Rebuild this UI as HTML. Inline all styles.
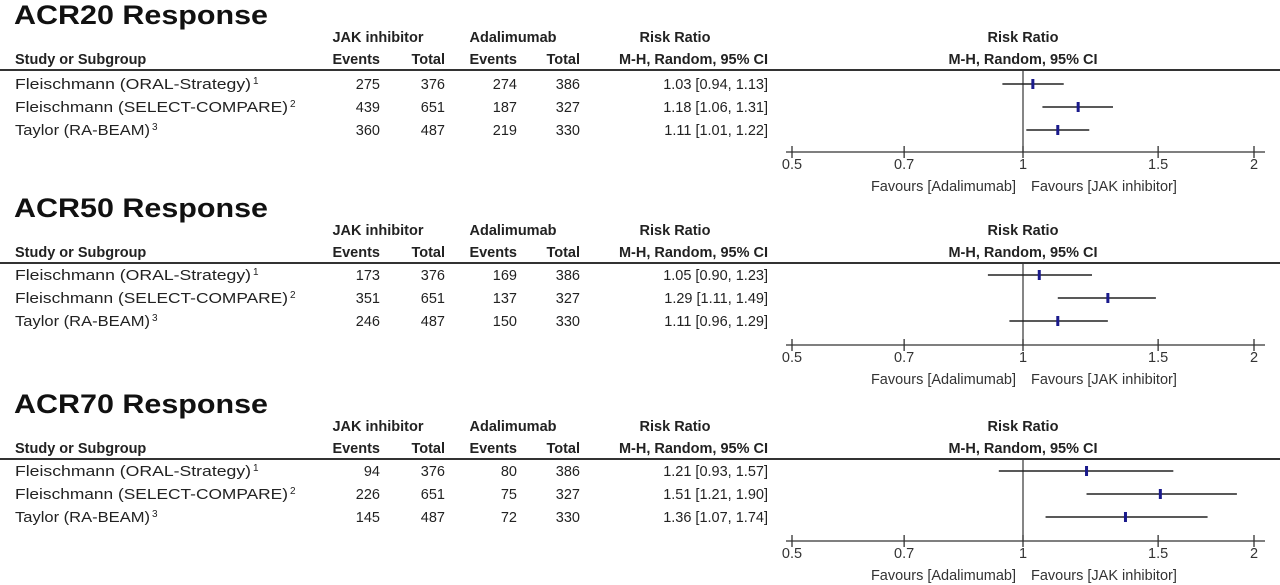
<!DOCTYPE html>
<html><head><meta charset="utf-8"><style>
html,body{margin:0;padding:0;background:#fff;}
svg{display:block;font-family:"Liberation Sans",Arial,sans-serif;}
</style></head><body>
<svg id="chart" width="1280" height="585" viewBox="0 0 1280 585" xmlns="http://www.w3.org/2000/svg"></svg>
<script>
const sectionTitles = ["ACR20 Response","ACR50 Response","ACR70 Response"];
const studyNames = ["Fleischmann (ORAL-Strategy)","Fleischmann (SELECT-COMPARE)","Taylor (RA-BEAM)"];
const studyRefs = ["1","2","3"];
const jakEvents = [[275,439,360],[173,351,246],[94,226,145]];
const jakTotal = [[376,651,487],[376,651,487],[376,651,487]];
const adaEvents = [[274,187,219],[169,137,150],[80,75,72]];
const adaTotal = [[386,327,330],[386,327,330],[386,327,330]];
const rrEst = [[1.03,1.18,1.11],[1.05,1.29,1.11],[1.21,1.51,1.36]];
const rrLow = [[0.94,1.06,1.01],[0.90,1.11,0.96],[0.93,1.21,1.07]];
const rrHigh = [[1.13,1.31,1.22],[1.23,1.49,1.29],[1.57,1.90,1.74]];
const tickValues = [0.5,0.7,1,1.5,2];
const tickLabels = ["0.5","0.7","1","1.5","2"];

const svg = document.getElementById('chart');
const NS = "http://www.w3.org/2000/svg";
function xScale(v){ return 1023 + 231*Math.log2(v); }
function el(tag, attrs, parent){
  const e = document.createElementNS(NS, tag);
  for (const k in attrs) e.setAttribute(k, attrs[k]);
  (parent||svg).appendChild(e);
  return e;
}
function txt(s, x, y, opts, parent){
  const t = el('text', Object.assign({x:x, y:y, 'font-size':14.5, fill:'#222'}, opts||{}), parent);
  t.textContent = s;
  return t;
}
const sectionOffsets = [0,193,389];
const rowShift = [2,0,0];
const nameLens = [236,273,135];

sectionTitles.forEach((title, s) => {
  const o = sectionOffsets[s];
  const g = el('g', {});
  
  
  const t = txt(title, 14, o+24, {'font-size':27,'font-weight':'bold',fill:'#111',textLength:254,lengthAdjust:'spacingAndGlyphs'}, g);
  
  
  const hb = {'font-weight':'bold', fill:'#222'};
  txt("JAK inhibitor", 378, o+42, Object.assign({'text-anchor':'middle'},hb), g);
  txt("Adalimumab", 513, o+42, Object.assign({'text-anchor':'middle'},hb), g);
  txt("Risk Ratio", 675, o+42, Object.assign({'text-anchor':'middle'},hb), g);
  txt("Risk Ratio", 1023, o+42, Object.assign({'text-anchor':'middle'},hb), g);
  txt("Study or Subgroup", 15, o+64, hb, g);
  txt("Events", 380, o+64, Object.assign({'text-anchor':'end'},hb), g);
  txt("Total", 445, o+64, Object.assign({'text-anchor':'end'},hb), g);
  txt("Events", 517, o+64, Object.assign({'text-anchor':'end'},hb), g);
  txt("Total", 580, o+64, Object.assign({'text-anchor':'end'},hb), g);
  txt("M-H, Random, 95% CI", 768, o+64, Object.assign({'text-anchor':'end'},hb), g);
  txt("M-H, Random, 95% CI", 1023, o+64, Object.assign({'text-anchor':'middle'},hb), g);
  const hl = el('line', {x1:0, x2:1280, y1:o+70, y2:o+70, stroke:'#333','stroke-width':2}, g);
  
  
  const rs = rowShift[s];
  const rowY = [o+87+rs, o+110+rs, o+133+rs];
  const axisY = o+152;
  const nl = el('line', {x1:xScale(1), x2:xScale(1), y1:o+70, y2:axisY, stroke:'#333','stroke-width':1.2}, g);
  
  
  studyNames.forEach((n, i) => {
    const y = rowY[i];
    const nt = txt(n, 15, y, {textLength:nameLens[i], lengthAdjust:'spacingAndGlyphs'}, g);
    
    
    txt(studyRefs[i], 15+nameLens[i]+2, y-5, {'font-size':10}, g);
    txt(String(jakEvents[s][i]), 380, y, {'text-anchor':'end'}, g);
    txt(String(jakTotal[s][i]), 445, y, {'text-anchor':'end'}, g);
    txt(String(adaEvents[s][i]), 517, y, {'text-anchor':'end'}, g);
    txt(String(adaTotal[s][i]), 580, y, {'text-anchor':'end'}, g);
    txt(rrEst[s][i].toFixed(2)+" ["+rrLow[s][i].toFixed(2)+", "+rrHigh[s][i].toFixed(2)+"]", 768, y, {'text-anchor':'end'}, g);
    const cy = y-5;
    const ci = el('line', {x1:xScale(rrLow[s][i]), x2:xScale(rrHigh[s][i]), y1:cy, y2:cy, stroke:'#222','stroke-width':1.5}, g);
    
    
    const pt = el('rect', {x:xScale(rrEst[s][i])-1.5, y:cy-5, width:3, height:10, fill:'#1a1a8c'}, g);
    
    
  });
  const ax = el('line', {x1:786, x2:1265, y1:axisY, y2:axisY, stroke:'#333','stroke-width':1.3}, g);
  
  
  tickValues.forEach((v, k) => {
    const x = xScale(v);
    const tk = el('line', {x1:x, x2:x, y1:axisY-6, y2:axisY+6, stroke:'#333','stroke-width':1.3}, g);
    
    
    const tl = txt(tickLabels[k], x, axisY+17, {'text-anchor':'middle', fill:'#333'}, g);
    
    
  });
  const f1 = txt("Favours [Adalimumab]", 1016, axisY+39, {'text-anchor':'end', fill:'#333'}, g);
  
  
  const f2 = txt("Favours [JAK inhibitor]", 1031, axisY+39, {fill:'#333'}, g);
  
  
});
</script>
</body></html>
